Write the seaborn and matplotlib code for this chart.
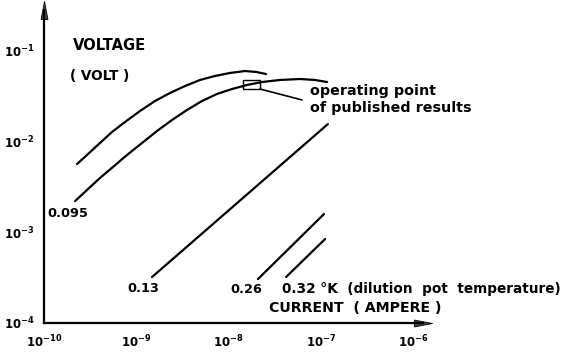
import numpy as np
import pandas as pd
import matplotlib
matplotlib.use("Agg")
import matplotlib.pyplot as plt
from matplotlib.patches import Rectangle
from matplotlib.path import Path
import seaborn as sns

# Voltage-current characteristics at several dilution pot temperatures
upper_current = [2.28e-10, 3.00e-10, 4.04e-10, 5.45e-10, 7.54e-10, 1.097e-9, 1.594e-9, 2.318e-9,
                 3.37e-9, 4.90e-9, 7.12e-9, 1.036e-8, 1.505e-8, 2.01e-8, 2.54e-8]
upper_voltage = [5.66e-3, 7.30e-3, 9.65e-3, 1.276e-2, 1.644e-2, 2.175e-2, 2.803e-2, 3.434e-2,
                 4.10e-2, 4.78e-2, 5.29e-2, 5.71e-2, 6.00e-2, 5.85e-2, 5.56e-2]

t095_current = [2.17e-10, 3.00e-10, 4.04e-10, 5.59e-10, 7.93e-10, 1.153e-9, 1.676e-9, 2.436e-9, 3.54e-9,
                5.15e-9, 7.48e-9, 1.088e-8, 1.582e-8, 2.30e-8, 3.60e-8, 5.94e-8, 8.63e-8, 1.164e-7]
t095_voltage = [2.21e-3, 3.00e-3, 3.97e-3, 5.25e-3, 7.12e-3, 9.65e-3, 1.309e-2, 1.730e-2, 2.231e-2,
                2.803e-2, 3.35e-2, 3.80e-2, 4.21e-2, 4.54e-2, 4.78e-2, 4.90e-2, 4.78e-2, 4.54e-2]

t013_current = [1.48e-9, 1.19e-7]
t013_voltage = [3.21e-4, 1.56e-2]

t026_current = [2.08e-8, 1.08e-7]
t026_voltage = [3.05e-4, 1.59e-3]

t032_current = [4.19e-8, 1.11e-7]
t032_voltage = [3.21e-4, 8.43e-4]

# operating point of published results (current range, voltage range)
op_current = [1.43e-8, 2.19e-8]
op_voltage = [3.80e-2, 4.78e-2]

x_ticks = [1e-10, 1e-9, 1e-8, 1e-7, 1e-6]
x_ticklabels = [r"$10^{-10}$", r"$10^{-9}$", r"$10^{-8}$", r"$10^{-7}$", r"$10^{-6}$"]
y_ticks = [1e-4, 1e-3, 1e-2, 1e-1]
y_ticklabels = [r"$10^{-4}$", r"$10^{-3}$", r"$10^{-2}$", r"$10^{-1}$"]

sns.set_style("white")
plt.rcParams["font.family"] = ["DejaVu Sans"]
plt.rcParams["mathtext.default"] = "bf"

W, H = 572, 353
fig = plt.figure(figsize=(W / 100, H / 100), dpi=100)
x0, x1, y0, y1 = 44, 423, 323, 10
ax = fig.add_axes([x0 / W, (H - y0) / H, (x1 - x0) / W, (y0 - y1) / H])
ax.set_xscale("log")
ax.set_yscale("log")
ax.set_xlim(1e-10, 10 ** (-10 + (x1 - x0) / 92.3))
ax.set_ylim(1e-4, 10 ** (-4 + (y0 - y1) / 90.7))

curves = [
    (upper_current, upper_voltage),
    (t095_current, t095_voltage),
    (t013_current, t013_voltage),
    (t026_current, t026_voltage),
    (t032_current, t032_voltage),
]
for cur, vol in curves:
    df = pd.DataFrame({"current": cur, "voltage": vol})
    sns.lineplot(data=df, x="current", y="voltage", ax=ax, color="black",
                 lw=1.6, sort=False, estimator=None)
for line in ax.get_lines():
    line.set_solid_joinstyle("round")
    line.set_solid_capstyle("round")

# marked operating point and its leader line
ax.add_patch(Rectangle((op_current[0], op_voltage[0]), op_current[1] - op_current[0],
                       op_voltage[1] - op_voltage[0], fill=False, ec="black", lw=1.0))
ax.plot([op_current[1], 6.24e-8], [op_voltage[0], 2.88e-2], color="black", lw=1.2)

# axes drawn as arrows
for s in ["top", "right"]:
    ax.spines[s].set_visible(False)
for s in ["left", "bottom"]:
    ax.spines[s].set_linewidth(1.6)
    ax.spines[s].set_color("black")
head = Path([(-0.38, -1.0), (0.0, 1.0), (0.38, -1.0), (-0.38, -1.0)],
            [Path.MOVETO, Path.LINETO, Path.LINETO, Path.CLOSEPOLY])
ax.plot([0], [1], marker=head, ms=13, color="#444444", mec="black", mew=0.6,
        transform=ax.transAxes, clip_on=False)
head_r = Path([(-1.0, -0.38), (1.0, 0.0), (-1.0, 0.38), (-1.0, -0.38)],
              [Path.MOVETO, Path.LINETO, Path.LINETO, Path.CLOSEPOLY])
ax.plot([1], [0], marker=head_r, ms=13, color="#444444", mec="black", mew=0.6,
        transform=ax.transAxes, clip_on=False)

ax.set_xticks(x_ticks)
ax.set_xticklabels(x_ticklabels)
ax.set_yticks(y_ticks)
ax.set_yticklabels(y_ticklabels)
ax.minorticks_off()
ax.tick_params(axis="both", which="major", direction="out", length=6, width=1.4,
               color="black", labelsize=8.5, labelcolor="black")
ax.tick_params(axis="x", pad=2)
ax.tick_params(axis="y", pad=1)
ax.set_xlabel("")
ax.set_ylabel("")
ax.grid(False)

bold = dict(color="black", fontweight="bold")
ax.text(0.077, 0.886, "VOLTAGE", transform=ax.transAxes, fontsize=10.6, ha="left", va="center", **bold)
ax.text(0.069, 0.79, "( VOLT )", transform=ax.transAxes, fontsize=9.8, ha="left", va="center", **bold)
ax.text(0.594, 0.048, "CURRENT  ( AMPERE )", transform=ax.transAxes, fontsize=10.2,
        ha="left", va="center", **bold)

ax.text(1.1e-10, 1.63e-3, "0.095", fontsize=9.3, ha="left", va="center", **bold)
ax.text(8.1e-10, 2.43e-4, "0.13", fontsize=9.3, ha="left", va="center", **bold)
ax.text(1.04e-8, 2.37e-4, "0.26", fontsize=9.3, ha="left", va="center", **bold)
ax.text(3.79e-8, 2.37e-4, "0.32 \u00b0K  (dilution  pot  temperature)", fontsize=9.8,
        ha="left", va="center", clip_on=False, **bold)
ax.text(7.6e-8, 3.61e-2, "operating point", fontsize=10.3, ha="left", va="center", **bold)
ax.text(7.6e-8, 2.34e-2, "of published results", fontsize=10.3, ha="left", va="center", **bold)

fig.savefig("out.png", dpi=100, facecolor="white")
